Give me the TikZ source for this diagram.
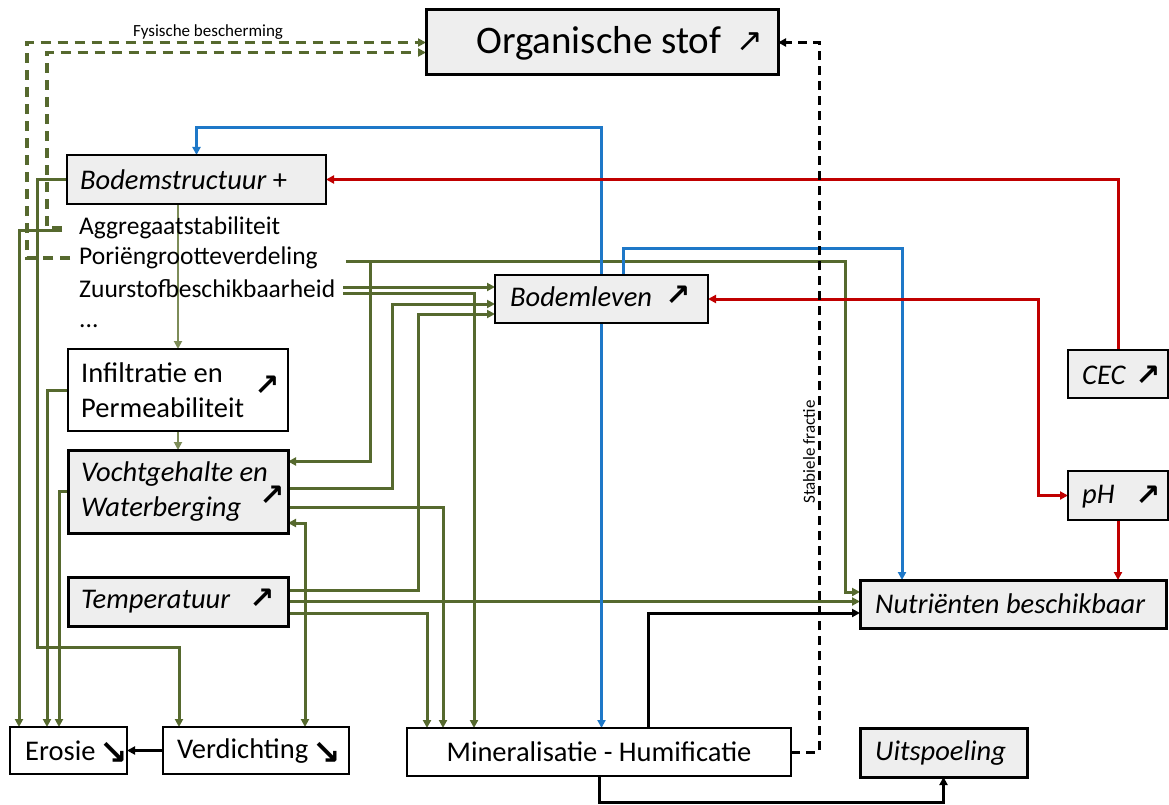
\documentclass[tikz,border=0pt]{standalone}
\usepackage{fontspec}
\setmainfont{Carlito}
\newfontfamily\symfnt{DejaVu Sans}
\usetikzlibrary{arrows.meta}
\definecolor{olv}{HTML}{56692E}
\definecolor{olvl}{HTML}{7D8C58}
\definecolor{blu}{HTML}{1E78C8}
\definecolor{rd}{HTML}{C00000}
\definecolor{boxg}{HTML}{EEEEEE}
\pgfdeclarelayer{bg}
\pgfsetlayers{bg,main}
\begin{document}
\begin{tikzpicture}[x=1pt,y=-1pt,
  >={Triangle[length=8pt,width=8pt]},
  box/.style={draw=black, fill=boxg, line width=#1, inner sep=0pt, outer sep=0pt},
  box/.default=2.5pt,
  wbox/.style={draw=black, fill=white, line width=#1, inner sep=0pt, outer sep=0pt},
  wbox/.default=2pt,
  bt/.style={inner sep=0pt, anchor=west, align=left, font=\fontsize{28.5}{35}\selectfont\itshape},
  btu/.style={inner sep=0pt, anchor=west, align=left, font=\fontsize{28.5}{35}\selectfont},
  lt/.style={inner sep=0pt, anchor=west, font=\fontsize{25.5}{30}\selectfont},
  small/.style={inner sep=0pt, font=\fontsize{17}{20}\selectfont},
  arw/.style={inner sep=0pt, font=\fontsize{30}{30}\selectfont\symfnt\bfseries},
  darw/.style={inner sep=0pt, font=\fontsize{34}{34}\selectfont\symfnt\bfseries},
  glin/.style={olv, line width=3pt},
  gthin/.style={olvl, line width=1.8pt},
  blin/.style={blu, line width=3pt},
  rlin/.style={rd, line width=3pt},
  klin/.style={black, line width=3pt},
  gdash/.style={olv, line width=3.2pt, dash pattern=on 10pt off 7pt},
  kdash/.style={black, line width=3pt, dash pattern=on 9pt off 6pt}]

\useasboundingbox (0,0) rectangle (1169,805);
\begin{pgfonlayer}{bg}
\fill[white] (0,0) rectangle (1169,805);
\end{pgfonlayer}

% ---------- boxes ----------
\node[box=3pt, minimum width=352pt, minimum height=65pt] (org) at (602,42.5) {};
\node[box=2.5pt, minimum width=259pt, minimum height=49pt] (bs) at (196.5,179.5) {};
\node[box=2.5pt, minimum width=213pt, minimum height=48pt] (bl) at (601.5,299) {};
\node[wbox=2pt, minimum width=220pt, minimum height=82pt] (inf) at (178,390) {};
\node[box=3pt, minimum width=220pt, minimum height=83pt] (voc) at (178,491.5) {};
\node[box=3pt, minimum width=220pt, minimum height=49pt] (tmp) at (178,601.5) {};
\node[box=2.5pt, minimum width=100pt, minimum height=48pt] (cec) at (1118,374) {};
\node[box=2.5pt, minimum width=100pt, minimum height=49pt] (ph) at (1118,495.5) {};
\node[box=3pt, minimum width=306pt, minimum height=48pt] (nut) at (1013,604) {};
\node[wbox=2pt, minimum width=117pt, minimum height=47pt] (ero) at (68.5,750.5) {};
\node[wbox=2pt, minimum width=186pt, minimum height=47pt] (ver) at (256,750.5) {};
\node[wbox=1.6pt, minimum width=384pt, minimum height=48pt] (min) at (599,752) {};
\node[box=3pt, minimum width=167pt, minimum height=49pt] (uit) at (943.5,752.5) {};

% ---------- texts ----------
\node[inner sep=0pt, anchor=west, font=\fontsize{39}{39}\selectfont] (org-t) at (476,43) {Organische stof};
\node[inner sep=0pt, font=\fontsize{32}{32}\selectfont\symfnt] (org-a) at (750,42) {↗};
\node[bt] (bs-t) at (80,180) {Bodemstructuur \upshape +};
\node[lt] (ag) at (79,228) {Aggregaatstabiliteit};
\node[lt] (pv) at (79,258) {Poriëngrootteverdeling};
\node[lt] (zs) at (79,289) {Zuurstofbeschikbaarheid};
\node[lt] (dots) at (79,326) {...};
\node[bt] (bl-t) at (510,297) {Bodemleven};
\node[arw] (bl-a) at (678,296) {↗};
\node[btu] (inf-t) at (81,390.5) {Infiltratie en\\Permeabiliteit};
\node[arw] (inf-a) at (267,386) {↗};
\node[bt] (voc-t) at (81,492) {Vochtgehalte en\\Waterberging};
\node[arw] (voc-a) at (272,496) {↗};
\node[bt] (tmp-t) at (81,602) {Temperatuur};
\node[arw] (tmp-a) at (262,599) {↗};
\node[bt] (cec-t) at (1082,375) {CEC};
\node[arw] (cec-a) at (1148,376) {↗};
\node[bt] (ph-t) at (1082,497) {pH};
\node[arw] (ph-a) at (1148,496) {↗};
\node[bt] (nut-t) at (875,604) {Nutriënten beschikbaar};
\node[btu] (ero-t) at (25,751) {Erosie};
\node[darw] (ero-a) at (114,753) {↘};
\node[btu] (ver-t) at (177,751) {Verdichting};
\node[darw] (ver-a) at (327,753) {↘};
\node[inner sep=0pt, font=\fontsize{28.5}{35}\selectfont] (min-t) at (599,752) {Mineralisatie - Humificatie};
\node[bt] (uit-t) at (875,753) {Uitspoeling};
\node[small] (fb) at (208,32) {Fysische bescherming};
\node[small, rotate=90] (sf) at (809,452) {Stabiele fractie};

% ---------- helper coordinates ----------
\coordinate (xa) at (19,0);
\coordinate (xb) at (37,0);
\coordinate (xc) at (47,0);
\coordinate (xd) at (59,0);
\coordinate (xe) at (179,0);
\coordinate (xf) at (305,0);
\coordinate (xg) at (370,0);
\coordinate (xh) at (392,0);
\coordinate (xi) at (418,0);
\coordinate (xj) at (427,0);
\coordinate (xk) at (443,0);
\coordinate (xl) at (474,0);
\coordinate (xb3) at (623,0);
\coordinate (xp) at (648,0);
\coordinate (xq) at (819,0);
\coordinate (xm) at (845,0);
\coordinate (xn) at (902,0);
\coordinate (xo) at (1038,0);
\coordinate (xr) at (27,0);
\coordinate (xs) at (47,0);
\coordinate (yb) at (0,128);
\coordinate (yc) at (0,248);
\coordinate (yd) at (0,647);
\coordinate (ye) at (0,802);
\coordinate (pvs) at ([xshift=28pt,yshift=-3pt]pv.east);
\coordinate (zs1) at ([xshift=8pt,yshift=2pt]zs.east);
\coordinate (zs2) at ([xshift=8pt,yshift=-4pt]zs.east);
\coordinate (n1) at ([yshift=12pt]nut.west);
\coordinate (n3) at ([yshift=-9pt]nut.west);
\coordinate (b2) at ([yshift=-5pt]bl.west);
\coordinate (b3) at ([yshift=-15pt]bl.west);
\coordinate (oi) at ([yshift=-10pt]org.west);

% ---------- connectors ----------
\begin{pgfonlayer}{bg}
% dashed green (physical protection)
\draw[gdash,->] ([xshift=-9pt]pv.west) -| (xr |- org.west) -- (org.west);
\draw[gdash,->] ([xshift=-17pt]ag.west) -| (xs |- oi) -- (oi);
% green left column
\draw[glin,->] ([xshift=-17pt,yshift=-2pt]ag.west) -| (xa |- ero.north);
\draw[glin,->] (bs.west) -| (xb |- yd) -| (xe |- ver.north);
\draw[glin,->] (inf.west) -| (xc |- ero.north);
\draw[glin,->] (voc.west) -| (xd |- ero.north);
\draw[gthin,->] (inf.north |- bs.south) -- (inf.north);
\draw[gthin,->] (inf.south) -- (voc.north);
% green right of column
\draw[glin,->] (pvs) -| (xm |- n1) -- (n1);
\draw[glin,->] (xg |- pvs) |- ([yshift=30pt]voc.east);
\draw[glin,->] (zs1) -- (zs1 -| bl.west);
\draw[glin,->] (zs2) -| (xl |- min.north);
\draw[glin,->] ([yshift=3.5pt]voc.east) -| (xh |- b2) -- (b2);
\draw[glin,->] ([yshift=11.5pt]tmp.east) -| (xi |- b3) -- (b3);
\draw[glin,->] ([yshift=-15.5pt]voc.east) -| (xk |- min.north);
\draw[glin,->] ([yshift=-11.5pt]tmp.east) -| (xj |- min.north);
\draw[glin,->] (tmp.east) -- (tmp.east -| nut.west);
\draw[glin,<->] ([yshift=-31.5pt]voc.east) -| (xf |- ver.north);
% blue
\draw[blin,->] (bl.north) -- (bl.north |- yb) -| (bs.north);
\draw[blin,->] (bl.south) -- (bl.south |- min.north);
\draw[blin,->] (xb3 |- bl.north) -- (xb3 |- yc) -| (xn |- nut.north);
% red
\draw[rlin,->] (cec.north) |- (bs.east);
\draw[rlin,<->] (bl.east) -| (xo |- ph.west) -- (ph.west);
\draw[rlin,->] (ph.south) -- (ph.south |- nut.north);
% black
\draw[klin,->] (xp |- min.north) |- (n3);
\draw[klin,->] (min.south) -- (min.south |- ye) -| (uit.south);
\draw[klin,->] (ver.west) -- (ero.east);
\draw[kdash,->] (min.east) -| (xq |- org.east) -- (org.east);
\end{pgfonlayer}
\end{tikzpicture}
\end{document}
